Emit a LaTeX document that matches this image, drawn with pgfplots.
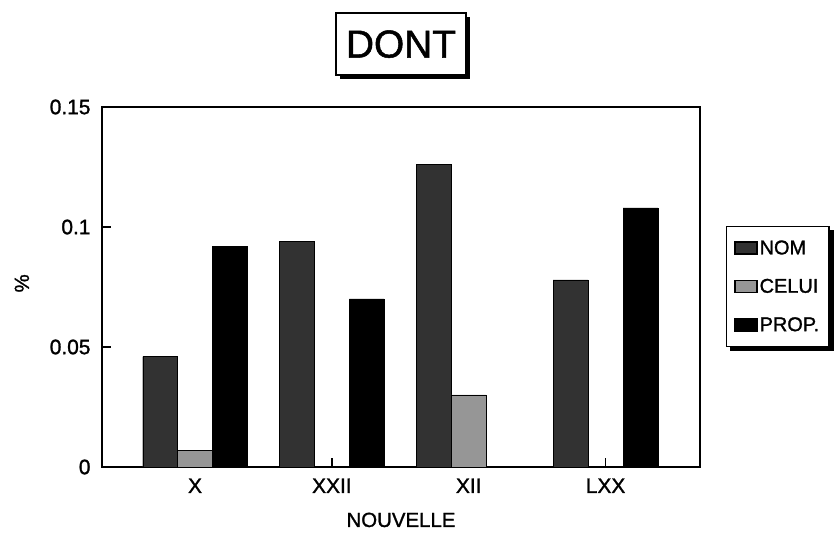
\documentclass[border=0pt]{standalone}
\usepackage{pgfplots}
\pgfplotsset{compat=1.18}
\usepackage{fontspec}
\setmainfont{Liberation Sans}[FakeBold=1.3]
\usetikzlibrary{shadows}
\definecolor{nomgray}{RGB}{50,50,50}
\definecolor{celuigray}{RGB}{150,150,150}
\begin{document}
\begin{tikzpicture}
\begin{axis}[
  at={(0,0)}, anchor=south west,
  scale only axis, width=598bp, height=360bp,
  xmin=-0.68, xmax=3.69, ymin=0, ymax=0.15,
  ybar, bar width=0.255,
  xtick={0,1,2,3}, xticklabels={X,XXII,XII,LXX},
  ytick={0,0.05,0.1,0.15},
  scaled y ticks=false,
  yticklabel style={/pgf/number format/fixed, /pgf/number format/precision=2,
    /pgf/number format/assume math mode=true, xshift=-8bp},
  xticklabel style={yshift=-8bp},
  tick label style={font=\fontsize{21}{24}\selectfont},
  label style={font=\fontsize{20.5}{24}\selectfont},
  tick align=inside, major tick length=9bp, xtick pos=bottom, ytick pos=left,
  axis line style={line width=1.6bp},
  tick style={line width=1.3bp, black},
  xlabel={NOUVELLE},
  xlabel style={at={(rel axis cs:0.5,-0.147)}, anchor=center},
  ylabel={\%},
  ylabel style={at={(rel axis cs:-0.134,0.51)}, anchor=center},
  title={DONT},
  title style={at={(rel axis cs:0.5,1.158)}, anchor=center, draw=black, line width=1.6bp,
    fill=white, minimum width=130bp, minimum height=62bp, inner sep=0pt,
    font=\fontsize{39}{42}\selectfont,
    drop shadow={shadow xshift=4bp, shadow yshift=-4bp, opacity=1, fill=black}},
  legend style={name=leg, at={(rel axis cs:1.043,0.67)}, anchor=north west, draw=black, line width=1.3bp,
    fill=white, font=\fontsize{20}{23}\selectfont, row sep=19bp, inner xsep=8bp, inner ysep=12bp},
  legend cell align=left,
  legend image code/.code={\fill[#1] (0bp,-6bp) rectangle (22bp,6bp);},
]
\addplot[fill=nomgray, draw=black, bar shift=-0.255] coordinates {(0,0.046) (1,0.094) (2,0.126) (3,0.078)};
\addplot[fill=celuigray, draw=black, bar shift=0] coordinates {(0,0.007) (2,0.030)};
\addplot[fill=black, draw=black, bar shift=0.255] coordinates {(0,0.092) (1,0.070) (3,0.108)};
\legend{NOM,CELUI,PROP.}
\end{axis}
\fill[black] ([yshift=-4bp]leg.north east) rectangle ([xshift=4bp,yshift=-4bp]leg.south east);
\fill[black] ([xshift=4bp]leg.south west) rectangle ([xshift=4bp,yshift=-4bp]leg.south east);
\pgfresetboundingbox
\path[use as bounding box] (-102bp,-72bp) rectangle (737bp,467bp);
\end{tikzpicture}
\end{document}
